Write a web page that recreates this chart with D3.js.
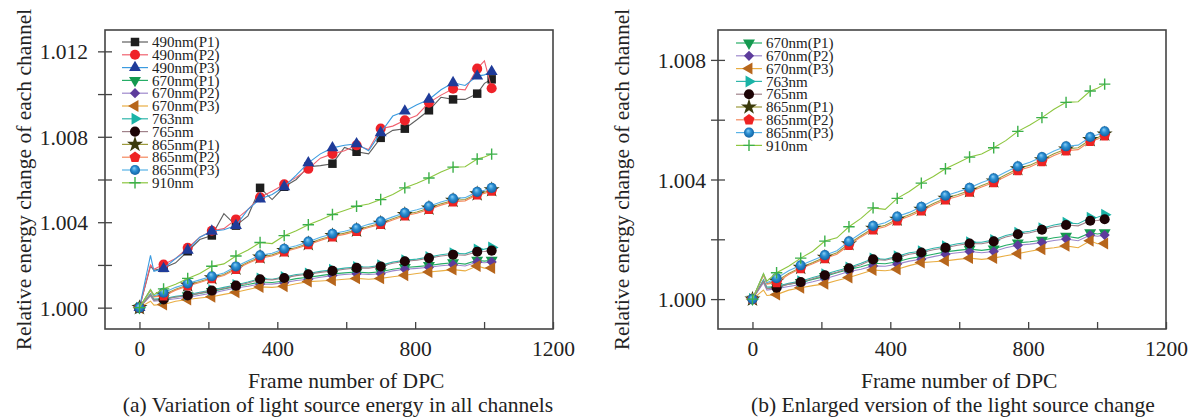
<!DOCTYPE html>
<html>
<head>
<meta charset="utf-8">
<script src="https://cdn.jsdelivr.net/npm/d3@7"></script>
<style>
  body { margin: 0; background: #fff; }
  text { font-family: "Liberation Serif", "Times New Roman", serif; fill: #222; }
</style>
</head>
<body>
<svg id="chart" width="1191" height="418"></svg>
<script>
// frame numbers of the line samples (markers sit on every 70 frames + the last one)
const frames = [0, 32, 42, 70, 105, 140, 175, 210, 245, 280, 315, 350, 385, 420, 455, 490,
  525, 560, 595, 630, 665, 700, 735, 770, 805, 840, 875, 910, 945, 980, 1001, 1022];

const s490P1 = [1.00000, 1.00195, 1.00175, 1.00186, 1.00210, 1.00264, 1.00319, 1.00338, 1.00440, 1.00384, 1.00430, 1.00561, 1.00506, 1.00566, 1.00600, 1.00660,
  1.00665, 1.00674, 1.00750, 1.00730, 1.00720, 1.00795, 1.00830, 1.00838, 1.00880, 1.00924, 1.00985, 1.00975, 1.00975, 1.01002, 1.01050, 1.01069];
const s490P2 = [1.00000, 1.00200, 1.00180, 1.00202, 1.00230, 1.00280, 1.00330, 1.00360, 1.00370, 1.00413, 1.00460, 1.00517, 1.00545, 1.00577, 1.00610, 1.00650,
  1.00700, 1.00720, 1.00735, 1.00760, 1.00740, 1.00838, 1.00850, 1.00877, 1.00900, 1.00960, 1.00995, 1.01025, 1.01020, 1.01119, 1.01155, 1.01027];
const s490P3 = [1.00000, 1.00245, 1.00170, 1.00183, 1.00230, 1.00269, 1.00330, 1.00358, 1.00365, 1.00384, 1.00460, 1.00509, 1.00530, 1.00566, 1.00620, 1.00678,
  1.00720, 1.00748, 1.00760, 1.00767, 1.00735, 1.00819, 1.00897, 1.00920, 1.00950, 1.00975, 1.01020, 1.01053, 1.01040, 1.01084, 1.01090, 1.01105];
const s670P1 = [1.00000, 1.00060, 1.00035, 1.00042, 1.00050, 1.00056, 1.00066, 1.00076, 1.00088, 1.00099, 1.00108, 1.00120, 1.00118, 1.00125, 1.00136, 1.00142,
  1.00150, 1.00158, 1.00163, 1.00167, 1.00163, 1.00168, 1.00180, 1.00188, 1.00192, 1.00197, 1.00205, 1.00210, 1.00204, 1.00222, 1.00218, 1.00222];
const s670P2 = [1.00000, 1.00055, 1.00030, 1.00035, 1.00042, 1.00049, 1.00058, 1.00068, 1.00080, 1.00092, 1.00100, 1.00111, 1.00110, 1.00117, 1.00127, 1.00133,
  1.00142, 1.00150, 1.00155, 1.00159, 1.00155, 1.00159, 1.00172, 1.00180, 1.00184, 1.00189, 1.00196, 1.00201, 1.00195, 1.00214, 1.00210, 1.00214];
const s670P3 = [1.00000, 1.00030, 1.00012, 1.00015, 1.00030, 1.00038, 1.00045, 1.00051, 1.00062, 1.00072, 1.00085, 1.00097, 1.00095, 1.00100, 1.00112, 1.00122,
  1.00125, 1.00128, 1.00133, 1.00137, 1.00133, 1.00137, 1.00145, 1.00152, 1.00160, 1.00167, 1.00172, 1.00178, 1.00172, 1.00195, 1.00185, 1.00186];
const s763 = [1.00000, 1.00065, 1.00040, 1.00042, 1.00053, 1.00060, 1.00072, 1.00083, 1.00095, 1.00106, 1.00120, 1.00136, 1.00133, 1.00143, 1.00155, 1.00160,
  1.00170, 1.00177, 1.00185, 1.00190, 1.00190, 1.00198, 1.00213, 1.00222, 1.00227, 1.00237, 1.00248, 1.00255, 1.00252, 1.00272, 1.00274, 1.00282];
const s765 = [1.00000, 1.00060, 1.00035, 1.00038, 1.00050, 1.00057, 1.00068, 1.00080, 1.00090, 1.00103, 1.00115, 1.00133, 1.00130, 1.00139, 1.00150, 1.00156,
  1.00165, 1.00172, 1.00180, 1.00186, 1.00185, 1.00193, 1.00208, 1.00217, 1.00222, 1.00232, 1.00242, 1.00248, 1.00245, 1.00262, 1.00263, 1.00267];
const s865P1 = [1.00000, 1.00082, 1.00052, 1.00060, 1.00086, 1.00106, 1.00122, 1.00140, 1.00155, 1.00185, 1.00212, 1.00237, 1.00247, 1.00267, 1.00282, 1.00300,
  1.00320, 1.00337, 1.00349, 1.00363, 1.00380, 1.00395, 1.00416, 1.00436, 1.00448, 1.00466, 1.00486, 1.00502, 1.00506, 1.00533, 1.00540, 1.00552];
const s865P2 = [1.00000, 1.00080, 1.00050, 1.00055, 1.00082, 1.00102, 1.00118, 1.00136, 1.00150, 1.00180, 1.00208, 1.00232, 1.00242, 1.00262, 1.00277, 1.00295,
  1.00315, 1.00332, 1.00343, 1.00358, 1.00375, 1.00390, 1.00410, 1.00430, 1.00442, 1.00460, 1.00480, 1.00496, 1.00500, 1.00528, 1.00535, 1.00546];
const s865P3 = [1.00000, 1.00085, 1.00055, 1.00070, 1.00095, 1.00113, 1.00130, 1.00147, 1.00162, 1.00193, 1.00220, 1.00245, 1.00255, 1.00276, 1.00290, 1.00309,
  1.00330, 1.00346, 1.00358, 1.00372, 1.00390, 1.00404, 1.00425, 1.00444, 1.00458, 1.00475, 1.00495, 1.00511, 1.00515, 1.00542, 1.00550, 1.00561];
const s910 = [1.00000, 1.00085, 1.00060, 1.00088, 1.00110, 1.00137, 1.00160, 1.00194, 1.00205, 1.00242, 1.00270, 1.00305, 1.00300, 1.00337, 1.00360, 1.00388,
  1.00410, 1.00436, 1.00455, 1.00475, 1.00485, 1.00506, 1.00530, 1.00561, 1.00582, 1.00607, 1.00635, 1.00658, 1.00660, 1.00696, 1.00705, 1.00719];

const seriesNames = ["490nm(P1)", "490nm(P2)", "490nm(P3)", "670nm(P1)", "670nm(P2)", "670nm(P3)",
  "763nm", "765nm", "865nm(P1)", "865nm(P2)", "865nm(P3)", "910nm"];
const seriesValues = [s490P1, s490P2, s490P3, s670P1, s670P2, s670P3, s763, s765, s865P1, s865P2, s865P3, s910];
const panelBNames = seriesNames.slice(3);

const xTicks = [0, 200, 400, 600, 800, 1000, 1200];
const xTickLabels = [0, 400, 800, 1200];
const yTicksA = [1.000, 1.002, 1.004, 1.006, 1.008, 1.010, 1.012];
const yTickLabelsA = [1.000, 1.004, 1.008, 1.012];
const yTicksB = [1.000, 1.002, 1.004, 1.006, 1.008];
const yTickLabelsB = [1.000, 1.004, 1.008];

// styles per series
const lineColor = {
  "490nm(P1)": "#5e5e5e", "490nm(P2)": "#f0606e", "490nm(P3)": "#3b9be0",
  "670nm(P1)": "#25ad66", "670nm(P2)": "#9d88cc", "670nm(P3)": "#e9ad42",
  "763nm": "#2fb5aa", "765nm": "#a0828a", "865nm(P1)": "#9c9a3c",
  "865nm(P2)": "#f4885c", "865nm(P3)": "#58b2e6", "910nm": "#8dc63f"
};
const markColor = {
  "490nm(P1)": "#1e1e1e", "490nm(P2)": "#ef2229", "490nm(P3)": "#1f3b99",
  "670nm(P1)": "#14994f", "670nm(P2)": "#5d3c9c", "670nm(P3)": "#b7661c",
  "763nm": "#1ab3a6", "765nm": "#1d0406", "865nm(P1)": "#3b3a0c",
  "865nm(P2)": "#ee2323", "865nm(P3)": "url(#sphere)", "910nm": "#3cb04a"
};
const markShape = {
  "490nm(P1)": "square", "490nm(P2)": "circle", "490nm(P3)": "up",
  "670nm(P1)": "down", "670nm(P2)": "diamond", "670nm(P3)": "left",
  "763nm": "right", "765nm": "circle", "865nm(P1)": "star",
  "865nm(P2)": "pentagon", "865nm(P3)": "circle", "910nm": "plus"
};

const symbolPentagon = {
  draw(ctx, size) {
    const r = Math.sqrt(size / 2.378);
    for (let i = 0; i < 5; i++) {
      const a = -Math.PI / 2 + i * 2 * Math.PI / 5;
      if (i === 0) ctx.moveTo(r * Math.cos(a), r * Math.sin(a));
      else ctx.lineTo(r * Math.cos(a), r * Math.sin(a));
    }
    ctx.closePath();
  }
};
const symbolPlus = {
  draw(ctx, size) {
    const r = Math.sqrt(size) / 2;
    ctx.moveTo(-r, 0); ctx.lineTo(r, 0);
    ctx.moveTo(0, -r); ctx.lineTo(0, r);
  }
};
// [symbol type, area, rotation]
const shapeType = {
  square: [d3.symbolSquare, 72, 0], circle: [d3.symbolCircle, 80, 0], up: [d3.symbolTriangle, 62, 0],
  down: [d3.symbolTriangle, 62, 180], left: [d3.symbolTriangle, 62, -90], right: [d3.symbolTriangle, 62, 90],
  diamond: [d3.symbolSquare, 52, 45], star: [d3.symbolStar, 80, 0], pentagon: [symbolPentagon, 80, 0],
  plus: [symbolPlus, 130, 0]
};

const svg = d3.select("#chart");
const defs = svg.append("defs");
const grad = defs.append("radialGradient").attr("id", "sphere")
  .attr("cx", "50%").attr("cy", "50%").attr("r", "55%").attr("fx", "40%").attr("fy", "30%");
grad.append("stop").attr("offset", "0%").attr("stop-color", "#8fd0f5");
grad.append("stop").attr("offset", "45%").attr("stop-color", "#2b8fd3");
grad.append("stop").attr("offset", "100%").attr("stop-color", "#0f5c9c");

function addMarker(g, name, cx, cy) {
  const [type, size, rot] = shapeType[markShape[name]];
  const p = g.append("path")
    .attr("d", d3.symbol().type(type).size(size)())
    .attr("transform", `translate(${cx},${cy}) rotate(${rot})`);
  if (markShape[name] === "plus") {
    p.attr("fill", "none").attr("stroke", markColor[name]).attr("stroke-width", 1.4);
  } else {
    p.attr("fill", markColor[name]);
  }
}

const isMarker = (f) => f % 70 === 0 || f === 1022;

function drawPanel(opt) {
  const top = 30, bottom = 329;
  const x = d3.scaleLinear().domain([-100, 1200]).range([opt.left, opt.right]);
  const y = d3.scaleLinear().domain(opt.yDomain).range([bottom, top]);
  const g = svg.append("g");

  // x axis: ticks pointing inward
  const gx = g.append("g")
    .attr("transform", `translate(0,${bottom})`)
    .call(d3.axisBottom(x).tickValues(xTicks).tickSize(-7).tickPadding(12)
      .tickFormat(d => xTickLabels.includes(d) ? d : ""))
    .attr("font-family", null).attr("font-size", 21.5);
  gx.select(".domain").remove();
  gx.selectAll(".tick line").attr("stroke", "#444").attr("stroke-width", 1.3);

  // y axis: ticks crossing the frame
  const gy = g.append("g")
    .attr("transform", `translate(${opt.left},0)`)
    .call(d3.axisLeft(y).tickValues(opt.yTicks).tickSize(7).tickPadding(opt.labelPad)
      .tickFormat(d => opt.yLabels.some(v => Math.abs(v - d) < 1e-9) ? d3.format(".3f")(d) : ""))
    .attr("font-family", null).attr("font-size", 21.5);
  gy.select(".domain").remove();
  gy.selectAll(".tick line").attr("x1", 7).attr("x2", -7).attr("stroke", "#444").attr("stroke-width", 1.3);
  gy.selectAll(".tick text").attr("dy", "0.35em");

  // series
  const line = d3.line().x((d, i) => x(frames[i])).y(d => y(d));
  opt.names.forEach(name => {
    const vals = seriesValues[seriesNames.indexOf(name)];
    g.append("path").datum(vals)
      .attr("d", line).attr("fill", "none")
      .attr("stroke", lineColor[name]).attr("stroke-width", 1.1);
    const mg = g.append("g");
    vals.forEach((v, i) => {
      if (isMarker(frames[i])) addMarker(mg, name, x(frames[i]), y(v));
    });
  });

  // frame
  g.append("rect")
    .attr("x", opt.left).attr("y", top)
    .attr("width", opt.right - opt.left).attr("height", bottom - top)
    .attr("fill", "none").attr("stroke", "#444").attr("stroke-width", 1.6);

  // legend
  const lg = g.append("g");
  opt.names.forEach((name, i) => {
    const ly = opt.legendY + i * 12.8;
    lg.append("line")
      .attr("x1", opt.legendX).attr("x2", opt.legendX + 26)
      .attr("y1", ly).attr("y2", ly)
      .attr("stroke", lineColor[name]).attr("stroke-width", 1.2);
    addMarker(lg, name, opt.legendX + 13, ly);
    lg.append("text")
      .attr("x", opt.legendX + 30).attr("y", ly).attr("dy", "0.35em")
      .attr("font-size", 15).text(name);
  });

  // axis titles and caption
  g.append("text")
    .attr("x", x(600)).attr("y", 388)
    .attr("text-anchor", "middle").attr("font-size", 21.5)
    .text("Frame number of DPC");
  g.append("text")
    .attr("transform", `translate(${opt.titleX},${(top + bottom) / 2}) rotate(-90)`)
    .attr("text-anchor", "middle").attr("font-size", 21.5)
    .text("Relative energy change of each channel");
  g.append("text")
    .attr("x", opt.captionX).attr("y", 412)
    .attr("text-anchor", "middle").attr("font-size", 21.5)
    .text(opt.caption);
}

drawPanel({
  left: 105, right: 553, yDomain: [0.999, 1.013], yTicks: yTicksA, yLabels: yTickLabelsA,
  labelPad: 10, names: seriesNames, legendX: 122, legendY: 42, titleX: 31, captionX: 338,
  caption: "(a) Variation of light source energy in all channels"
});
drawPanel({
  left: 718, right: 1166, yDomain: [0.999, 1.009], yTicks: yTicksB, yLabels: yTickLabelsB,
  labelPad: 5, names: panelBNames, legendX: 736, legendY: 43, titleX: 629, captionX: 953,
  caption: "(b) Enlarged version of the light source change"
});
</script>
</body>
</html>
